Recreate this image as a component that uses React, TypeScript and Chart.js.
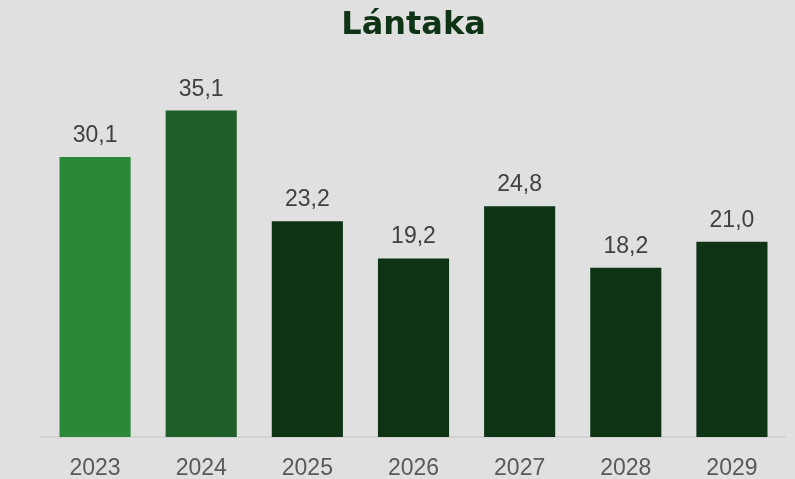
import React, { useEffect, useRef } from "react";
import { Chart, registerables } from "chart.js";

Chart.register(...registerables);

const categories = ["2023", "2024", "2025", "2026", "2027", "2028", "2029"];
const values = [30.1, 35.1, 23.2, 19.2, 24.8, 18.2, 21.0];
const barColors = ["#2a8838", "#1e5e28", "#0e3315", "#0e3315", "#0e3315", "#0e3315", "#0e3315"];
const titleText = "Lántaka";

const valueLabels = {
  id: "valueLabels",
  afterDatasetsDraw(chart: any) {
    const ctx = chart.ctx;
    const meta = chart.getDatasetMeta(0);
    ctx.save();
    ctx.font = "23px 'Liberation Sans', Arial, sans-serif";
    ctx.fillStyle = "#404040";
    ctx.textAlign = "center";
    ctx.textBaseline = "alphabetic";
    meta.data.forEach((bar: any, i: number) => {
      const v = chart.data.datasets[0].data[i] as number;
      ctx.fillText(v.toFixed(1).replace(".", ","), bar.x, bar.y - 15);
    });
    ctx.restore();
  },
};

export default function App() {
  const ref = useRef<HTMLCanvasElement | null>(null);
  useEffect(() => {
    document.body.style.margin = "0";
    document.body.style.background = "#e0e0e0";
    const chart = new Chart(ref.current!, {
      type: "bar",
      data: {
        labels: categories,
        datasets: [
          {
            data: values,
            backgroundColor: barColors,
            categoryPercentage: 0.67,
            barPercentage: 1,
          },
        ],
      },
      options: {
        animation: false,
        responsive: false,
        layout: { padding: { left: 42, right: 10, top: 0, bottom: 0 } },
        plugins: {
          legend: { display: false },
          tooltip: { enabled: false },
          title: {
            display: true,
            text: titleText,
            color: "#0e3315",
            font: { family: "'DejaVu Sans'", size: 32, weight: "bold" },
            padding: { top: 6, bottom: 20.6 },
          },
        },
        scales: {
          x: {
            grid: { display: false, drawTicks: false },
            border: { display: true, color: "#d2d2d2", width: 2 },
            ticks: {
              color: "#595959",
              padding: 18,
              font: { family: "'Liberation Sans', Arial, sans-serif", size: 23 },
            },
            afterFit(scale: any) {
              scale.height = 42;
            },
          },
          y: {
            display: false,
            min: 0,
            max: 40,
          },
        },
      },
      plugins: [valueLabels],
    });
    return () => chart.destroy();
  }, []);
  return (
    <div style={{ width: 795, height: 479, background: "#e0e0e0" }}>
      <canvas ref={ref} width={795} height={479} />
    </div>
  );
}
